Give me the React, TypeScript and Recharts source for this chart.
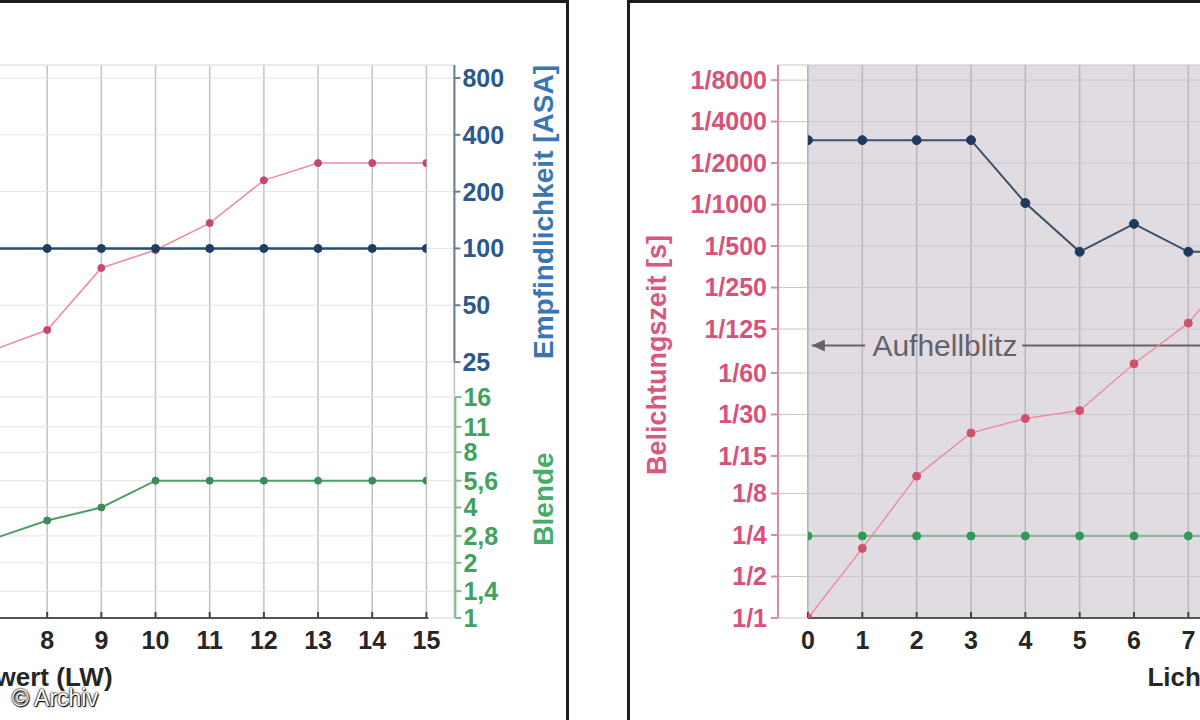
import {
  LineChart,
  Line,
  XAxis,
  YAxis,
  CartesianGrid,
  ReferenceArea,
  ReferenceLine,
  ReferenceDot,
} from "recharts";

const FONT = '"Liberation Sans", Arial, sans-serif';

// left panel: Lichtwert 7..15 (the part left of LW 7 is cut off in the scan)
const LEFT_LW = [7, 8, 9, 10, 11, 12, 13, 14, 15];
const LEFT_SHUTTER = [88, 123, 347, 468, 734, 1500, 2000, 2000, 2000]; // 1/x s
const LEFT_ASA = [100, 100, 100, 100, 100, 100, 100, 100, 100];
const LEFT_APERTURE = [2.7, 3.4, 4, 5.6, 5.6, 5.6, 5.6, 5.6, 5.6];

// right panel: Lichtwert 0..8 (cut off after 7)
const RIGHT_LW = [0, 1, 2, 3, 4, 5, 6, 7, 8];
const RIGHT_SHUTTER = [1, 3.2, 10.7, 22, 28, 32, 70, 138, 400];
const RIGHT_ASA = [375, 375, 375, 375, 174, 96, 135, 96, 96];
const RIGHT_APERTURE = [2.8, 2.8, 2.8, 2.8, 2.8, 2.8, 2.8, 2.8, 2.8];

const FLASH_SYNC = 95; // Aufhellblitz, 1/x s

const LEFT_LW_TICKS = [7, 8, 9, 10, 11, 12, 13, 14, 15];
const RIGHT_LW_TICKS = [0, 1, 2, 3, 4, 5, 6, 7, 8, 9, 10, 11, 12, 13, 14, 15];
const ASA_TICKS = [25, 50, 100, 200, 400, 800];
const APERTURE_TICKS = [1, 1.4, 2, 2.8, 4, 5.6, 8, 11, 16];
const SHUTTER_TICKS = [1, 2, 4, 8, 15, 30, 60, 125, 250, 500, 1000, 2000, 4000, 8000];

// log domains chosen so the three scales share one plot area like in the print
const SHUTTER_DOMAIN = [1, 10300];
const ASA_DOMAIN = [1.1, 938];
const APERTURE_DOMAIN = [1, 1030];

const leftData = LEFT_LW.map((lw, i) => ({
  lw,
  shutter: LEFT_SHUTTER[i],
  asa: LEFT_ASA[i],
  aperture: LEFT_APERTURE[i],
}));

const rightData = RIGHT_LW.map((lw, i) => ({
  lw,
  shutter: RIGHT_SHUTTER[i],
  asa: RIGHT_ASA[i],
  aperture: RIGHT_APERTURE[i],
}));

const commaNum = (v: number) => String(v).replace(".", ",");

const vTitle = (text: string, color: string, dx: number, dy: number, size = 27) => (props: any) => {
  const vb = props.viewBox;
  const x = vb.x + dx;
  const y = vb.y + dy;
  return (
    <text
      x={x}
      y={y}
      transform={`rotate(-90 ${x} ${y})`}
      textAnchor="middle"
      dominantBaseline="central"
      fill={color}
      fontSize={size}
      fontWeight={700}
      fontFamily={FONT}
    >
      {text}
    </text>
  );
};

const hTitle = (text: string, dx: number, dy: number) => (props: any) => {
  const vb = props.viewBox;
  return (
    <text
      x={vb.x + dx}
      y={vb.y + dy}
      textAnchor="middle"
      dominantBaseline="central"
      fill="#262626"
      fontSize={26}
      fontWeight={700}
      fontFamily={FONT}
    >
      {text}
    </text>
  );
};

const ArrowHead = (props: any) => (
  <path d={`M${props.cx},${props.cy} l13,-6 l0,12 z`} fill="#6a5f68" />
);

const xTick = { fill: "#262626", fontSize: 25, fontWeight: 700, fontFamily: FONT };

export default function App() {
  return (
    <div
      style={{
        position: "absolute",
        left: 0,
        top: 0,
        width: 1200,
        height: 720,
        overflow: "hidden",
        background: "#fff",
        fontFamily: FONT,
      }}
    >
      {/* panel frames */}
      <div
        style={{
          position: "absolute",
          left: -10,
          top: 0,
          width: 579,
          height: 740,
          borderTop: "3px solid #1c1c1c",
          borderRight: "3px solid #1c1c1c",
          boxSizing: "border-box",
        }}
      />
      <div
        style={{
          position: "absolute",
          left: 627,
          top: 0,
          width: 700,
          height: 740,
          borderTop: "3px solid #1c1c1c",
          borderLeft: "3px solid #1c1c1c",
          boxSizing: "border-box",
        }}
      />

      {/* left chart */}
      <div style={{ position: "absolute", left: -7.4, top: 0 }}>
        <LineChart
          width={580}
          height={720}
          data={leftData}
          margin={{ top: 65, right: 116.6, bottom: 42, left: 0 }}
        >
          <CartesianGrid yAxisId="asa" horizontal={false} stroke="#c3c3c3" strokeWidth={1.5} />
          <CartesianGrid yAxisId="asa" vertical={false} stroke="#e4e4e4" />
          <CartesianGrid yAxisId="blende" vertical={false} stroke="#e4e4e4" />
          <XAxis
            type="number"
            dataKey="lw"
            domain={[7, 15]}
            allowDataOverflow
            ticks={LEFT_LW_TICKS}
            interval={0}
            padding={{ left: 0, right: 28 }}
            height={60}
            axisLine={{ stroke: "#555", strokeWidth: 2, strokeDasharray: "435.4 300" }}
            tickLine={{ stroke: "#444", strokeWidth: 2 }}
            tickSize={-6}
            tickMargin={19}
            tick={xTick}
            label={hTitle("Lichtwert (LW)", 30, 59)}
          />
          <YAxis yAxisId="time" hide scale="log" domain={SHUTTER_DOMAIN} allowDataOverflow />
          <YAxis
            yAxisId="asa"
            orientation="right"
            width={1}
            scale="log"
            domain={ASA_DOMAIN}
            allowDataOverflow
            ticks={ASA_TICKS}
            interval={0}
            axisLine={{ stroke: "#6b7d92", strokeWidth: 2, strokeDasharray: "297 2000" }}
            tickLine={{ stroke: "#6b7d92", strokeWidth: 2 }}
            tickSize={6}
            tickMargin={2}
            tick={{ fill: "#2b5a8a", fontSize: 25, fontWeight: 700, fontFamily: FONT }}
            label={vTitle("Empfindlichkeit [ASA]", "#3a76b2", 89, 147, 28)}
          />
          <YAxis
            yAxisId="blende"
            orientation="right"
            width={1}
            scale="log"
            domain={APERTURE_DOMAIN}
            allowDataOverflow
            ticks={APERTURE_TICKS}
            interval={0}
            tickFormatter={commaNum}
            axisLine={{ stroke: "#7dbd8f", strokeWidth: 2, strokeDasharray: "0 332 221 2000" }}
            tickLine={{ stroke: "#7dbd8f", strokeWidth: 2 }}
            tickSize={6}
            tickMargin={2}
            tick={{ fill: "#3fa35f", fontSize: 25, fontWeight: 700, fontFamily: FONT }}
            label={vTitle("Blende", "#45ad68", 88, 434, 28)}
          />
          <Line
            yAxisId="time"
            dataKey="shutter"
            stroke="#ee8a9f"
            strokeWidth={1.5}
            dot={{ r: 3.5, fill: "#c4486a", stroke: "#c4486a", strokeWidth: 1 }}
            activeDot={false}
            isAnimationActive={false}
          />
          <Line
            yAxisId="blende"
            dataKey="aperture"
            stroke="#4f9e69"
            strokeWidth={2}
            dot={{ r: 3.5, fill: "#3b8a57", stroke: "#3b8a57", strokeWidth: 1 }}
            activeDot={false}
            isAnimationActive={false}
          />
          <Line
            yAxisId="asa"
            dataKey="asa"
            stroke="#274a73"
            strokeWidth={2.5}
            dot={{ r: 4, fill: "#1f3d63", stroke: "#1f3d63", strokeWidth: 1 }}
            activeDot={false}
            isAnimationActive={false}
          />
        </LineChart>
      </div>

      {/* right chart */}
      <div style={{ position: "absolute", left: 630, top: 0 }}>
        <LineChart
          width={1137.6}
          height={720}
          data={rightData}
          margin={{ top: 65, right: 116.6, bottom: 42, left: 0 }}
        >
          <CartesianGrid yAxisId="time" horizontal={false} stroke="#a39aa4" strokeWidth={1.5} />
          <CartesianGrid yAxisId="time" vertical={false} stroke="#cbc2cb" />
          <ReferenceArea yAxisId="time" x1={0} x2={15} fill="#cdc6ce" fillOpacity={0.62} stroke="none" />
          <XAxis
            type="number"
            dataKey="lw"
            domain={[0, 15]}
            allowDataOverflow
            ticks={RIGHT_LW_TICKS}
            interval={0}
            padding={{ left: 30, right: 28 }}
            height={60}
            axisLine={{ stroke: "#555", strokeWidth: 2, strokeDasharray: "0 30 5000" }}
            tickLine={{ stroke: "#444", strokeWidth: 2 }}
            tickSize={-6}
            tickMargin={19}
            tick={xTick}
            label={hTitle("Lichtwert (LW)", 459, 59)}
          />
          <YAxis
            yAxisId="time"
            width={148}
            scale="log"
            domain={SHUTTER_DOMAIN}
            allowDataOverflow
            ticks={SHUTTER_TICKS}
            interval={0}
            tickFormatter={(v: number) => `1/${v}`}
            axisLine={{ stroke: "#d98aa2", strokeWidth: 2 }}
            tickLine={{ stroke: "#d98aa2", strokeWidth: 2 }}
            tickSize={7}
            tickMargin={4}
            tick={{ fill: "#d6527a", fontSize: 25, fontWeight: 700, fontFamily: FONT }}
            label={vTitle("Belichtungszeit [s]", "#d8587f", 27, 290)}
          />
          <YAxis yAxisId="asa" orientation="right" hide scale="log" domain={ASA_DOMAIN} allowDataOverflow />
          <YAxis yAxisId="blende" orientation="right" hide scale="log" domain={APERTURE_DOMAIN} allowDataOverflow />

          <ReferenceLine
            yAxisId="time"
            segment={[
              { x: 0.07, y: FLASH_SYNC },
              { x: 1.05, y: FLASH_SYNC },
            ]}
            stroke="#6a5f68"
            strokeWidth={2}
          />
          <ReferenceDot yAxisId="time" x={0.07} y={FLASH_SYNC} shape={ArrowHead} />
          <ReferenceDot
            yAxisId="time"
            x={2.52}
            y={FLASH_SYNC}
            r={0}
            fill="none"
            stroke="none"
            label={{ value: "Aufhellblitz", position: "center", fill: "#6a5f68", fontSize: 30, fontFamily: FONT }}
          />
          <ReferenceLine
            yAxisId="time"
            segment={[
              { x: 3.94, y: FLASH_SYNC },
              { x: 15, y: FLASH_SYNC },
            ]}
            stroke="#6a5f68"
            strokeWidth={2}
          />

          <Line
            yAxisId="time"
            dataKey="shutter"
            stroke="#e98fa5"
            strokeWidth={1.5}
            dot={{ r: 4, fill: "#d0506f", stroke: "#d0506f", strokeWidth: 1 }}
            activeDot={false}
            isAnimationActive={false}
          />
          <Line
            yAxisId="blende"
            dataKey="aperture"
            stroke="#8fb59a"
            strokeWidth={2}
            dot={{ r: 4, fill: "#2f9a55", stroke: "#2f9a55", strokeWidth: 1 }}
            activeDot={false}
            isAnimationActive={false}
          />
          <Line
            yAxisId="asa"
            dataKey="asa"
            stroke="#3c5068"
            strokeWidth={2}
            dot={{ r: 4.5, fill: "#1f3a5e", stroke: "#1f3a5e", strokeWidth: 1 }}
            activeDot={false}
            isAnimationActive={false}
          />
        </LineChart>
      </div>

      <div
        style={{
          position: "absolute",
          left: 12,
          top: 686,
          color: "#fff",
          fontSize: 23,
          lineHeight: "24px",
          textShadow: "0 0 2px #000, 0 0 2px #000, 1px 1px 1px #000",
        }}
      >
        © Archiv
      </div>
    </div>
  );
}
